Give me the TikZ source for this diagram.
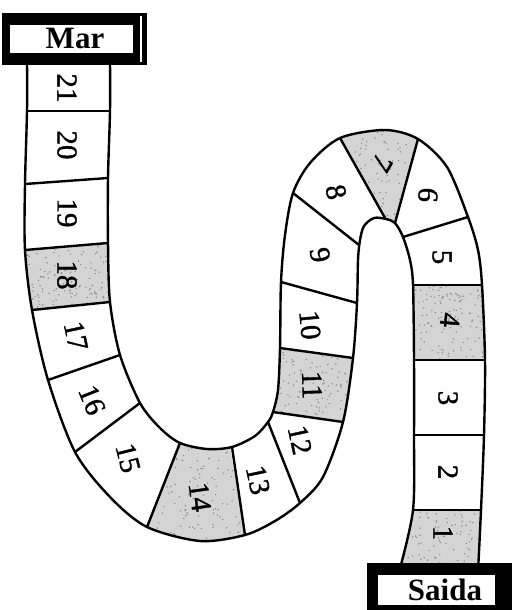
\documentclass[tikz,border=0pt]{standalone}
\usepackage{fontspec}
\setmainfont{Liberation Serif}
\newfontfamily\numfont[FakeBold=1.2]{Liberation Serif}
\newcommand\mySpeckle[4]{%
  \foreach \i in {1,...,170}{%
    \pgfmathsetmacro\px{#1+rnd*(#2-#1)}%
    \pgfmathsetmacro\py{#3+rnd*(#4-#3)}%
    \fill[black!45] (\px,\py) circle[radius=0.8pt];}}
\begin{document}
\begin{tikzpicture}[x=1pt,y=-1pt,
  edge/.style={line width=2.4pt, line join=round, line cap=round},
  shadecell/.style={fill=black!17},
  num/.style={font=\numfont\fontsize{29}{29}\selectfont, inner sep=0pt},
  lbl/.style={font=\fontsize{31}{31}\selectfont\bfseries, inner sep=0pt}]
\useasboundingbox (0,0) rectangle (515,610);
\pgfmathsetseed{7}

% shaded cells, clipped to the track
\begin{scope}
\clip plot[smooth] coordinates {(27,60) (27,111) (25,184) (25,250) (32,310) (48,380) (75,452) (110,497) (147,527) (200,541) (245,535) (275,521) (300,503) (323,477) (343,422) (353,358) (357,303) (358,260) (360,240) (364,226) (374,218) (386,219) (395,223) (403,237) (410,260) (413,285) (414,360) (414,435) (413,510) (399,572)}
 -- plot[smooth] coordinates {(478,572) (481,510) (484,435) (485,360) (482,285) (478,250) (468,217) (447,167) (418,139) (385,130) (340,138) (310,163) (293,193) (285,235) (281,282) (280,348) (278,390) (273,412) (268,422) (255,436) (232,447) (207,449) (180,443) (160,428) (140,403) (120,355) (110,302) (108,243) (108,178) (110,111) (110,60)} -- cycle;
\begin{scope}
\clip (390,510) -- (500,510) -- (500,580) -- (390,580) -- cycle;
\fill[shadecell] (390,510) rectangle (500,580);
\mySpeckle{390}{500}{510}{580}
\end{scope}
\begin{scope}
\clip (395,285) -- (500,285) -- (500,360) -- (395,360) -- cycle;
\fill[shadecell] (395,285) rectangle (500,360);
\mySpeckle{395}{500}{285}{360}
\end{scope}
\begin{scope}
\clip (385,218) -- (329,118) -- (424,118) -- (395,223) -- cycle;
\fill[shadecell] (329,118) rectangle (424,223);
\mySpeckle{329}{424}{118}{223}
\end{scope}
\begin{scope}
\clip (260,345) -- (370,360) -- (360,424) -- (255,409) -- cycle;
\fill[shadecell] (255,345) rectangle (370,424);
\mySpeckle{255}{370}{345}{424}
\end{scope}
\begin{scope}
\clip (143,538) -- (183,430) -- (228,436) -- (247,547) -- cycle;
\fill[shadecell] (143,430) rectangle (247,547);
\mySpeckle{143}{247}{430}{547}
\end{scope}
\begin{scope}
\clip (15,251) -- (118,242) -- (120,301) -- (20,311) -- cycle;
\fill[shadecell] (15,242) rectangle (120,311);
\mySpeckle{15}{120}{242}{311}
\end{scope}
\end{scope}

% track edges
\draw[edge] plot[smooth] coordinates {(27,60) (27,111) (25,184) (25,250) (32,310) (48,380) (75,452) (110,497) (147,527) (200,541) (245,535) (275,521) (300,503) (323,477) (343,422) (353,358) (357,303) (358,260) (360,240) (364,226) (374,218) (386,219) (395,223) (403,237) (410,260) (413,285) (414,360) (414,435) (413,510) (399,572)};
\draw[edge] plot[smooth] coordinates {(110,60) (110,111) (108,178) (108,243) (110,302) (120,355) (140,403) (160,428) (180,443) (207,449) (232,447) (255,436) (268,422) (273,412) (278,390) (280,348) (281,282) (285,235) (293,193) (310,163) (340,138) (385,130) (418,139) (447,167) (468,217) (478,250) (482,285) (485,360) (484,435) (481,510) (478,572)};

% dividers
\draw[edge] (27,111) -- (110,111);
\draw[edge] (25,184) -- (108,178);
\draw[edge] (25,250) -- (108,243);
\draw[edge] (32,310) -- (110,302);
\draw[edge] (48,380) -- (120,355);
\draw[edge] (75,452) -- (140,403);
\draw[edge] (147,527) -- (180,443);
\draw[edge] (245,535) -- (232,447);
\draw[edge] (300,503) -- (268,422);
\draw[edge] (343,422) -- (273,412);
\draw[edge] (353,358) -- (280,348);
\draw[edge] (357,303) -- (281,282);
\draw[edge] (293,193) -- (359,245);
\draw[edge] (340,138) -- (385,218);
\draw[edge] (418,139) -- (395,223);
\draw[edge] (468,217) -- (403,237);
\draw[edge] (413,285) -- (482,285);
\draw[edge] (414,360) -- (485,360);
\draw[edge] (414,435) -- (484,435);
\draw[edge] (413,510) -- (481,510);

% numbers
\node[num, rotate=-90] (n21) at (67,88) {21};
\node[num, rotate=-90] (n20) at (67,145) {20};
\node[num, rotate=-90] (n19) at (67,213) {19};
\node[num, rotate=-90] (n18) at (67,275) {18};
\node[num, rotate=-78] (n17) at (76,336) {17};
\node[num, rotate=-68] (n16) at (92,400) {16};
\node[num, rotate=-76] (n15) at (128,458) {15};
\node[num, rotate=-82] (n14) at (200,497) {14};
\node[num, rotate=-78] (n13) at (258,480) {13};
\node[num, rotate=-78] (n12) at (300,440) {12};
\node[num, rotate=-88] (n11) at (312,385) {11};
\node[num, rotate=-85] (n10) at (310,325) {10};
\node[num, rotate=-80] (n9) at (320,255) {9};
\node[num, rotate=-78] (n8) at (336,192) {8};
\node[num, rotate=-120] (n7) at (382,163) {7};
\node[num, rotate=-95] (n6) at (428,195) {6};
\node[num, rotate=-90] (n5) at (442,257) {5};
\node[num, rotate=-95] (n4) at (450,320) {4};
\node[num, rotate=-90] (n3) at (448,398) {3};
\node[num, rotate=-90] (n2) at (448,472) {2};
\node[num, rotate=-90] (n1) at (443,533) {1};

% start / end boxes
\fill[black] (2,13) rectangle (147,65);
\fill[white] (10,25) rectangle (133,53);
\draw[white, line width=1.2pt] (141,16) -- (141,62);
\node[lbl] (mar) at (75,39) {Mar};

\fill[black] (367,563) rectangle (512,610);
\fill[white] (378,575) rectangle (495,605);
\node[lbl] (saida) at (445,590) {Saida};
\end{tikzpicture}
\end{document}
